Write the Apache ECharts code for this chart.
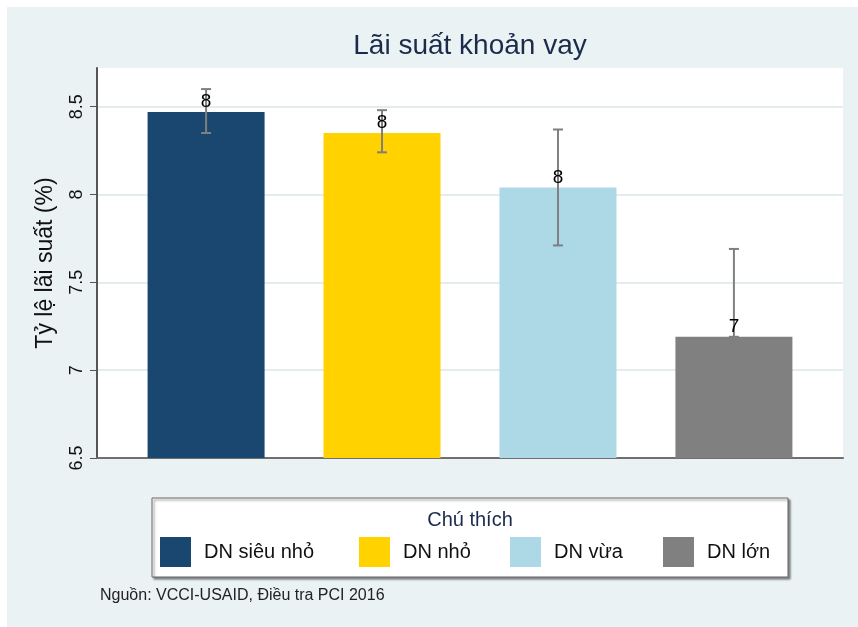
<!DOCTYPE html>
<html>
<head>
<meta charset="utf-8">
<script src="https://cdn.jsdelivr.net/npm/echarts@6/dist/echarts.min.js"></script>
<style>
  html, body { margin: 0; padding: 0; background: #fff; }
  #main { width: 858px; height: 627px; }
</style>
</head>
<body>
<div id="main"></div>
<script>
const groups = ['DN siêu nhỏ', 'DN nhỏ', 'DN vừa', 'DN lớn'];
const rates = [8.47, 8.35, 8.04, 7.19];
const ciLow = [8.35, 8.24, 7.71, 7.19];
const ciHigh = [8.60, 8.48, 8.37, 7.69];
const yTicks = [6.5, 7, 7.5, 8, 8.5];
const colors = ['#1a476f', '#ffd200', '#add8e6', '#808080'];
const legendLeft = [160, 359, 510, 663];

const myChart = echarts.init(document.getElementById('main'));
const font = 'Liberation Sans, Arial, sans-serif';

const series = [];
groups.forEach(function (name, i) {
  series.push({
    name: name,
    type: 'bar',
    barWidth: 117,
    barGap: '-100%',
    itemStyle: {color: colors[i]},
    data: [[i + 1, rates[i]]],
    z: 2
  });
});

// error bars + rounded value labels
series.push({
  type: 'custom',
  z: 5,
  encode: {x: 0, y: [2, 3]},
  data: groups.map(function (g, i) {
    return [i + 1, rates[i], ciLow[i], ciHigh[i]];
  }),
  renderItem: function (params, api) {
    const x = api.value(0);
    const hi = api.coord([x, api.value(3)]);
    const lo = api.coord([x, api.value(2)]);
    const mid = api.coord([x, api.value(1)]);
    const st = {stroke: '#7f7f7f', lineWidth: 2};
    return {
      type: 'group',
      children: [
        {type: 'line', shape: {x1: hi[0], y1: hi[1], x2: lo[0], y2: lo[1]}, style: st},
        {type: 'line', shape: {x1: hi[0] - 5, y1: hi[1], x2: hi[0] + 5, y2: hi[1]}, style: st},
        {type: 'line', shape: {x1: lo[0] - 5, y1: lo[1], x2: lo[0] + 5, y2: lo[1]}, style: st},
        {
          type: 'text',
          x: mid[0],
          y: mid[1] - 10,
          style: {
            text: String(Math.round(api.value(1))),
            fill: '#000',
            font: '19px ' + font,
            textAlign: 'center',
            textVerticalAlign: 'middle'
          }
        }
      ]
    };
  }
});

const legends = groups.map(function (name, i) {
  return {
    data: [name],
    left: legendLeft[i],
    top: 537,
    padding: 0,
    icon: 'rect',
    itemWidth: 31,
    itemHeight: 30,
    selectedMode: false,
    textStyle: {fontSize: 20, color: '#111', fontFamily: font, padding: [0, 0, 0, 8]}
  };
});

const option = {
  backgroundColor: '#eaf2f3',
  animation: false,
  textStyle: {fontFamily: font},
  grid: {
    left: 97,
    right: 15,
    top: 68,
    bottom: 627 - 458,
    show: true,
    backgroundColor: '#ffffff',
    borderWidth: 0
  },
  xAxis: {
    type: 'value',
    min: 0.38,
    max: 4.62,
    axisLine: {show: true, lineStyle: {color: '#6f6f6f', width: 2}},
    axisTick: {show: false},
    axisLabel: {show: false},
    splitLine: {show: false}
  },
  yAxis: {
    type: 'value',
    min: 6.5,
    max: 8.72,
    interval: 0.5,
    name: 'Tỷ lệ lãi suất (%)',
    nameLocation: 'middle',
    nameRotate: 90,
    nameGap: 40,
    nameTextStyle: {fontSize: 23, color: '#111', fontFamily: font},
    axisLine: {show: true, lineStyle: {color: '#555', width: 2}},
    axisTick: {show: true, length: 7, lineStyle: {color: '#555'}, customValues: yTicks},
    axisLabel: {
      rotate: 90,
      margin: 11,
      fontSize: 18,
      color: '#111',
      customValues: yTicks
    },
    splitLine: {show: true, lineStyle: {color: '#e3edf0', width: 2}}
  },
  legend: legends,
  graphic: [
    {type: 'rect', left: 0, top: 0, shape: {width: 858, height: 7}, style: {fill: '#fff'}, silent: true},
    {type: 'rect', left: 0, top: 0, shape: {width: 7, height: 627}, style: {fill: '#fff'}, silent: true},
    {
      type: 'text',
      x: 470,
      y: 46,
      style: {
        text: 'Lãi suất khoản vay',
        font: '28px ' + font,
        fill: '#1a2b4c',
        textAlign: 'center',
        textVerticalAlign: 'middle'
      }
    },
    {
      type: 'rect',
      shape: {x: 152, y: 498, width: 636, height: 79},
      style: {
        fill: '#fff',
        stroke: '#666',
        lineWidth: 1,
        shadowColor: 'rgba(0,0,0,0.45)',
        shadowBlur: 2,
        shadowOffsetX: 2,
        shadowOffsetY: 2
      }
    },
    {
      type: 'text',
      x: 470,
      y: 520,
      style: {
        text: 'Chú thích',
        font: '20px ' + font,
        fill: '#1a2b4c',
        textAlign: 'center',
        textVerticalAlign: 'middle'
      }
    },
    {
      type: 'text',
      x: 100,
      y: 596,
      style: {
        text: 'Nguồn: VCCI-USAID, Điều tra PCI 2016',
        font: '16px ' + font,
        fill: '#222',
        textAlign: 'left',
        textVerticalAlign: 'middle'
      }
    }
  ],
  series: series
};

myChart.setOption(option);
</script>
</body>
</html>
